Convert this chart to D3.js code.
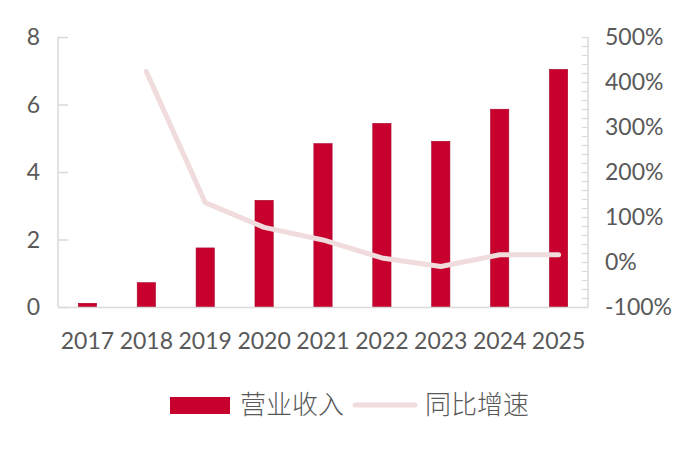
<!DOCTYPE html>
<html>
<head>
<meta charset="utf-8">
<script src="https://cdn.jsdelivr.net/npm/d3@7"></script>
<style>
  body { margin: 0; background: #fff; }
  text { fill: #595959; }
</style>
</head>
<body>
<div id="chart"></div>
<script>
// data
var years = ["2017", "2018", "2019", "2020", "2021", "2022", "2023", "2024", "2025"];
var revenue = [0.11, 0.72, 1.75, 3.16, 4.84, 5.44, 4.91, 5.86, 7.04];
var growth = [null, 4.23, 1.32, 0.77, 0.49, 0.09, -0.10, 0.16, 0.16];
var leftTicks = [0, 2, 4, 6, 8];
var rightTicks = [-1, 0, 1, 2, 3, 4, 5];

var svgWidth = 700;
var svgHeight = 452;
var margin = { top: 37, right: 112, bottom: 145, left: 58 };
var width = svgWidth - margin.left - margin.right;
var height = svgHeight - margin.top - margin.bottom;

var svg = d3.select("#chart")
  .append("svg")
  .attr("width", svgWidth)
  .attr("height", svgHeight);

var chartGroup = svg.append("g")
  .attr("transform", `translate(${margin.left}, ${margin.top})`);

var x = d3.scaleBand()
  .domain(years)
  .range([0, width])
  .paddingInner(0.69)
  .paddingOuter(0.345);

var xCenter = d3.scaleBand().domain(years).range([0, width]);

var yLeft = d3.scaleLinear().domain([0, 8]).range([height, 0]);
var yRight = d3.scaleLinear().domain([-1, 5]).range([height, 0]);

var axisColor = "#d9d9d9";
var tickFont = "Lato, 'Open Sans', sans-serif";

// bars
chartGroup.selectAll(".bar")
  .data(years)
  .enter()
  .append("rect")
  .attr("class", "bar")
  .attr("x", d => x(d))
  .attr("width", x.bandwidth())
  .attr("y", (d, i) => yLeft(revenue[i]))
  .attr("height", (d, i) => height - yLeft(revenue[i]))
  .attr("fill", "#c8002d")
  .attr("stroke", "#a8002a")
  .attr("stroke-width", 0.6);

// growth line
var line = d3.line()
  .defined(d => d.v !== null)
  .x(d => xCenter(d.year) + xCenter.bandwidth() / 2)
  .y(d => yRight(d.v));

chartGroup.append("path")
  .datum(years.map((y, i) => ({ year: y, v: growth[i] })))
  .attr("d", line)
  .attr("fill", "none")
  .attr("stroke", "#f0dcdc")
  .attr("stroke-width", 5)
  .attr("stroke-linecap", "round")
  .attr("stroke-linejoin", "round");

// left axis
var leftAxis = d3.axisRight(yLeft).tickValues(leftTicks).tickSize(10).tickFormat("");
var gl = chartGroup.append("g").call(leftAxis);
gl.selectAll("path, line").attr("stroke", axisColor).attr("stroke-width", 1.5);
gl.select(".domain").attr("d", `M0,0V${height}`);

chartGroup.selectAll(".ylab")
  .data(leftTicks)
  .enter()
  .append("text")
  .attr("x", -18)
  .attr("y", d => yLeft(d))
  .attr("dy", "0.36em")
  .attr("text-anchor", "end")
  .style("font-family", tickFont)
  .style("font-size", "23px")
  .text(d => d);

// right axis with minor ticks every 20%
var minorTicks = d3.range(-1, 5.001, 0.2);
var rightAxis = d3.axisLeft(yRight).tickValues(minorTicks).tickSize(6).tickFormat("");
var gr = chartGroup.append("g")
  .attr("transform", `translate(${width}, 0)`)
  .call(rightAxis);
gr.selectAll("path, line").attr("stroke", axisColor).attr("stroke-width", 1.2);
gr.select(".domain").attr("d", `M0,0V${height}`).attr("stroke-width", 1.5);

chartGroup.selectAll(".rlab")
  .data(rightTicks)
  .enter()
  .append("text")
  .attr("x", width + 17)
  .attr("y", d => yRight(d))
  .attr("dy", "0.36em")
  .style("font-family", tickFont)
  .style("font-size", "23px")
  .text(d => Math.round(d * 100) + "%");

// bottom axis
var bottomAxis = d3.axisBottom(xCenter).tickSize(0).tickPadding(26);
var gb = chartGroup.append("g")
  .attr("transform", `translate(0, ${height})`)
  .call(bottomAxis);
gb.select(".domain").attr("stroke", axisColor).attr("stroke-width", 1.5);
gb.selectAll("text")
  .style("font-family", tickFont)
  .style("font-size", "23px")
  .style("fill", "#595959");

// legend
var legend = svg.append("g").attr("transform", "translate(170, 405)");
legend.append("rect")
  .attr("x", 0).attr("y", -8)
  .attr("width", 60).attr("height", 17)
  .attr("fill", "#c8002d");
legend.append("text")
  .attr("x", 70).attr("y", 0).attr("dy", "0.36em")
  .style("font-family", "'Noto Sans CJK SC', sans-serif")
  .style("font-weight", 300)
  .style("font-size", "26px")
  .text("营业收入");
legend.append("line")
  .attr("x1", 185).attr("x2", 245)
  .attr("y1", 0).attr("y2", 0)
  .attr("stroke", "#f0dcdc")
  .attr("stroke-width", 5)
  .attr("stroke-linecap", "round");
legend.append("text")
  .attr("x", 255).attr("y", 0).attr("dy", "0.36em")
  .style("font-family", "'Noto Sans CJK SC', sans-serif")
  .style("font-weight", 300)
  .style("font-size", "26px")
  .text("同比增速");
</script>
</body>
</html>
